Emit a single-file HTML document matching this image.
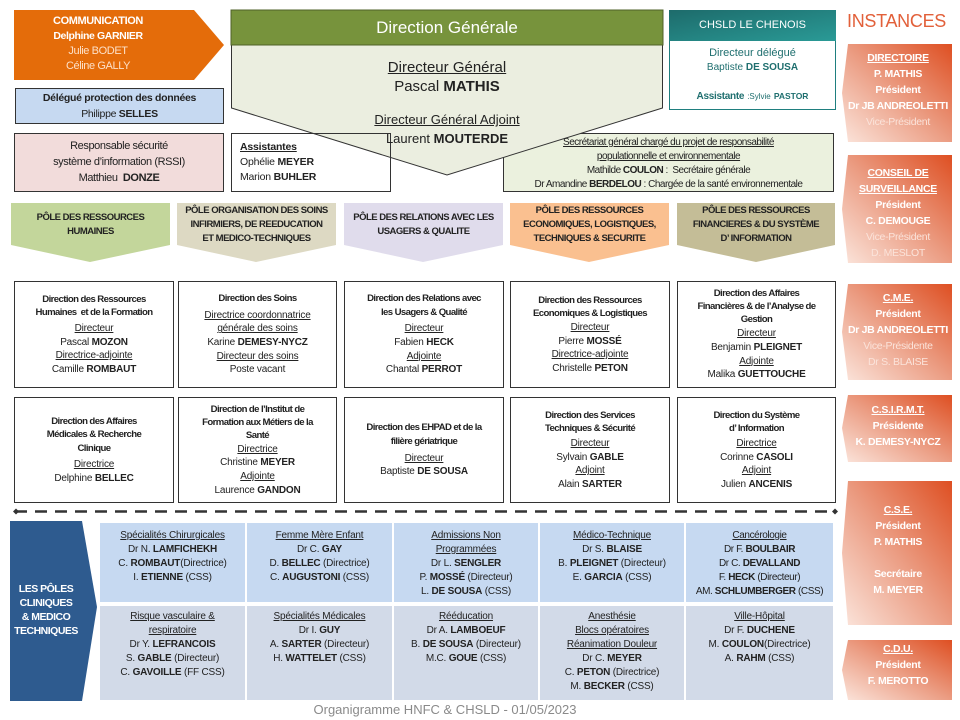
<!DOCTYPE html>
<html><head><meta charset="utf-8">
<style>
*{margin:0;padding:0;box-sizing:border-box}
body{width:960px;height:720px;position:relative;background:#fff;font-family:"Liberation Sans",sans-serif;color:#222;overflow:hidden}
.a{position:absolute}
.box{position:absolute;border:1px solid #333;display:flex;align-items:center;justify-content:center;text-align:center;font-size:10px;line-height:13.6px;letter-spacing:-0.2px}
.box>div{width:100%}
.t{font-weight:bold;letter-spacing:-0.6px;margin-bottom:3px;font-size:9.6px}
u{text-decoration:underline}
.pole{position:absolute;display:flex;align-items:center;justify-content:center;text-align:center;font-size:9.5px;font-weight:bold;letter-spacing:-0.5px;line-height:14px;height:44px}
.cell{position:absolute;text-align:center;font-size:10px;line-height:14px;letter-spacing:-0.2px;padding-top:6px}
.inst{position:absolute;text-align:center;color:#fff;font-size:10.5px;line-height:16px;font-weight:bold;letter-spacing:-0.3px}
.inst .h{text-decoration:underline}
.inst .l{font-weight:normal;color:#fbe3da}
</style></head><body>
<svg class="a" style="left:0;top:0" width="960" height="720">
<defs>
<linearGradient id="g" x1="0" y1="1" x2="1" y2="0">
<stop offset="0" stop-color="#fbe5dc"/><stop offset="0.5" stop-color="#eb9c82"/><stop offset="1" stop-color="#de4f22"/>
</linearGradient>
<linearGradient id="tl" x1="0" y1="0" x2="1" y2="1">
<stop offset="0" stop-color="#1d6b6b"/><stop offset="1" stop-color="#2a9a96"/>
</linearGradient>
</defs>
<polygon points="14,10 194,10 224,45 194,80 14,80" fill="#e46c0a"/>
<rect x="15.5" y="88.5" width="208" height="35" fill="#c6d9f1" stroke="#333"/>
<rect x="14.5" y="133.5" width="209" height="58" fill="#f2dcdb" stroke="#333"/>
<rect x="503.5" y="133.5" width="330" height="58" fill="#ebf1de" stroke="#333"/>
<polygon points="231.5,44 662.5,44 662.5,108 447,175 231.5,108" fill="#ebeee0" stroke="#333"/>
<rect x="231" y="10" width="432" height="35" fill="#77933c" stroke="#4f6228"/>
<rect x="231.5" y="133.5" width="159" height="58" fill="none" stroke="#333"/>
<rect x="669.5" y="10.5" width="166" height="99" fill="#fff" stroke="#1f7f7f"/>
<rect x="669" y="10" width="167" height="31" fill="url(#tl)"/>
<polygon points="11,203 170,203 170,245 90,262 11,245" fill="#c3d69b"/>
<polygon points="177,203 336,203 336,245 256,262 177,245" fill="#ddd9c3"/>
<polygon points="344,203 503,203 503,245 423,262 344,245" fill="#e0dcec"/>
<polygon points="510,203 669,203 669,245 589,262 510,245" fill="#fac090"/>
<polygon points="677,203 835,203 835,245 756,262 677,245" fill="#c4bd97"/>
<line x1="15" y1="511.5" x2="835" y2="511.5" stroke="#333" stroke-width="2.5" stroke-dasharray="12,8"/>
<polygon points="13,511.5 16,508.5 19,511.5 16,514.5" fill="#333"/>
<polygon points="832,511.5 835,508.5 838,511.5 835,514.5" fill="#333"/>
<polygon points="10,521 82,521 97,607 82,701 10,701" fill="#2e5b8f"/>
<g fill="#c6d9f1">
<rect x="100" y="523" width="145" height="79"/><rect x="247" y="523" width="145" height="79"/><rect x="394" y="523" width="144" height="79"/><rect x="540" y="523" width="144" height="79"/><rect x="686" y="523" width="147" height="79"/>
</g>
<g fill="#d2dae8">
<rect x="100" y="606" width="145" height="94"/><rect x="247" y="606" width="145" height="94"/><rect x="394" y="606" width="144" height="94"/><rect x="540" y="606" width="144" height="94"/><rect x="686" y="606" width="147" height="94"/>
</g>
<polygon points="848,44 952,44 952,142 848,142 842,93" fill="url(#g)"/>
<polygon points="848,155 952,155 952,263 848,263 842,209" fill="url(#g)"/>
<polygon points="848,284 952,284 952,380 848,380 842,332" fill="url(#g)"/>
<polygon points="848,395 952,395 952,462 848,462 842,428" fill="url(#g)"/>
<polygon points="848,481 952,481 952,625 848,625 842,553" fill="url(#g)"/>
<polygon points="848,640 952,640 952,700 848,700 842,670" fill="url(#g)"/>
</svg>

<div class="a" style="left:14px;top:14px;width:168px;text-align:center;color:#fff;font-size:11px;line-height:15px;letter-spacing:-0.4px"><b>COMMUNICATION</b><br><b style="font-size:10.5px">Delphine GARNIER</b><br><span style="color:#fde0c8">Julie BODET<br>Céline GALLY</span></div>
<div class="a" style="left:15px;top:90px;width:209px;text-align:center;font-size:10.5px;line-height:16px;letter-spacing:-0.3px"><b>Délégué protection des données</b><br>Philippe <b>SELLES</b></div>
<div class="a" style="left:14px;top:138px;width:210px;text-align:center;font-size:11px;line-height:16px;letter-spacing:-0.4px">Responsable sécurité<br>système d’information (RSSI)<br>Matthieu &nbsp;<b>DONZE</b></div>
<div class="a" style="left:231px;top:10px;width:432px;height:35px;line-height:35px;text-align:center;color:#fff;font-size:17px">Direction Générale</div>
<div class="a" style="left:231px;top:58px;width:432px;text-align:center;font-size:15px;line-height:19px"><u>Directeur Général</u><br>Pascal <b>MATHIS</b></div>
<div class="a" style="left:231px;top:110px;width:432px;text-align:center;font-size:13px;line-height:19px"><u>Directeur Général Adjoint</u><br>Laurent <b>MOUTERDE</b></div>
<div class="a" style="left:240px;top:140px;font-size:10.5px;line-height:15px;letter-spacing:-0.2px"><b><u>Assistantes</u></b><br>Ophélie <b>MEYER</b><br>Marion <b>BUHLER</b></div>
<div class="a" style="left:503px;top:136px;width:331px;text-align:center;font-size:10px;line-height:14px;letter-spacing:-0.5px"><u>Secrétariat général chargé du projet de responsabilité<br>populationnelle et environnementale</u><br>Mathilde <b>COULON</b> : &nbsp;Secrétaire générale<br>Dr Amandine <b>BERDELOU</b> : Chargée de la santé environnementale</div>
<div class="a" style="left:669px;top:10px;width:167px;height:31px;line-height:31px;text-align:center;color:#fff;font-size:11px">CHSLD LE CHENOIS</div>
<div class="a" style="left:669px;top:46px;width:167px;text-align:center;color:#1f6f6f;font-size:11px;line-height:14px">Directeur délégué<br><span style="font-size:10px">Baptiste <b>DE SOUSA</b></span><br><br><b style="font-size:10px;letter-spacing:-0.3px">Assistante</b> <span style="font-size:8px">:Sylvie</span> <b style="font-size:8.5px">PASTOR</b></div>
<div class="a" style="left:847px;top:11px;color:#e2603a;font-size:18px;letter-spacing:-0.3px">INSTANCES</div>

<div class="inst" style="left:842px;top:50px;width:112px"><span class="h">DIRECTOIRE</span><br>P. MATHIS<br>Président<br>Dr JB ANDREOLETTI<br><span class="l">Vice-Président</span></div>
<div class="inst" style="left:842px;top:165px;width:112px"><span class="h">CONSEIL DE<br>SURVEILLANCE</span><br>Président<br>C. DEMOUGE<br><span class="l">Vice-Président<br>D. MESLOT</span></div>
<div class="inst" style="left:842px;top:290px;width:112px"><span class="h">C.M.E.</span><br>Président<br>Dr JB ANDREOLETTI<br><span class="l">Vice-Présidente<br>Dr S. BLAISE</span></div>
<div class="inst" style="left:842px;top:402px;width:112px"><span class="h">C.S.I.R.M.T.</span><br>Présidente<br>K. DEMESY-NYCZ</div>
<div class="inst" style="left:842px;top:502px;width:112px"><span class="h">C.S.E.</span><br>Président<br>P. MATHIS<br><br>Secrétaire<br>M. MEYER</div>
<div class="inst" style="left:842px;top:641px;width:112px"><span class="h">C.D.U.</span><br>Président<br>F. MEROTTO</div>

<div class="pole" style="left:11px;top:203px;width:159px">PÔLE DES RESSOURCES<br>HUMAINES</div>
<div class="pole" style="left:177px;top:203px;width:159px">PÔLE ORGANISATION DES SOINS<br>INFIRMIERS, DE REEDUCATION<br>ET MEDICO-TECHNIQUES</div>
<div class="pole" style="left:344px;top:203px;width:159px">PÔLE DES RELATIONS AVEC LES<br>USAGERS &amp; QUALITE</div>
<div class="pole" style="left:510px;top:203px;width:159px">PÔLE DES RESSOURCES<br>ECONOMIQUES, LOGISTIQUES,<br>TECHNIQUES &amp; SECURITE</div>
<div class="pole" style="left:677px;top:203px;width:158px">PÔLE DES RESSOURCES<br>FINANCIERES &amp; DU SYSTÈME<br>D’ INFORMATION</div>

<div class="box" style="left:14px;top:281px;width:160px;height:107px"><div><div class="t" style="margin-bottom:2px">Direction des Ressources<br>Humaines &nbsp;et de la Formation</div><u>Directeur</u><br>Pascal <b>MOZON</b><br><u>Directrice-adjointe</u><br>Camille <b>ROMBAUT</b></div></div>
<div class="box" style="left:178px;top:281px;width:159px;height:107px"><div><div class="t">Direction des Soins</div><u>Directrice coordonnatrice<br>générale des soins</u><br>Karine <b>DEMESY-NYCZ</b><br><u>Directeur des soins</u><br>Poste vacant</div></div>
<div class="box" style="left:344px;top:281px;width:160px;height:107px"><div><div class="t">Direction des Relations avec<br>les Usagers &amp; Qualité</div><u>Directeur</u><br>Fabien <b>HECK</b><br><u>Adjointe</u><br>Chantal <b>PERROT</b></div></div>
<div class="box" style="left:510px;top:281px;width:160px;height:107px"><div><div class="t" style="margin-bottom:0">Direction des Ressources<br>Economiques &amp; Logistiques</div><u>Directeur</u><br>Pierre <b>MOSSÉ</b><br><u>Directrice-adjointe</u><br>Christelle <b>PETON</b></div></div>
<div class="box" style="left:677px;top:281px;width:159px;height:107px"><div><div class="t" style="margin-bottom:1px;line-height:13px">Direction des Affaires<br>Financières &amp; de l’Analyse de<br>Gestion</div><u>Directeur</u><br>Benjamin <b>PLEIGNET</b><br><u>Adjointe</u><br>Malika <b>GUETTOUCHE</b></div></div>

<div class="box" style="left:14px;top:397px;width:160px;height:106px"><div><div class="t">Direction des Affaires<br>Médicales &amp; Recherche<br>Clinique</div><u>Directrice</u><br>Delphine <b>BELLEC</b></div></div>
<div class="box" style="left:178px;top:397px;width:159px;height:106px"><div><div class="t" style="margin-bottom:1px;line-height:13px">Direction de l’Institut de<br>Formation aux Métiers de la<br>Santé</div><u>Directrice</u><br>Christine <b>MEYER</b><br><u>Adjointe</u><br>Laurence <b>GANDON</b></div></div>
<div class="box" style="left:344px;top:397px;width:160px;height:106px"><div><div class="t">Direction des EHPAD et de la<br>filière gériatrique</div><u>Directeur</u><br>Baptiste <b>DE SOUSA</b></div></div>
<div class="box" style="left:510px;top:397px;width:160px;height:106px"><div><div class="t" style="margin-bottom:1px">Direction des Services<br>Techniques &amp; Sécurité</div><u>Directeur</u><br>Sylvain <b>GABLE</b><br><u>Adjoint</u><br>Alain <b>SARTER</b></div></div>
<div class="box" style="left:677px;top:397px;width:159px;height:106px"><div><div class="t" style="margin-bottom:1px">Direction du Système<br>d’ Information</div><u>Directrice</u><br>Corinne <b>CASOLI</b><br><u>Adjoint</u><br>Julien <b>ANCENIS</b></div></div>

<div class="a" style="left:10px;top:582px;width:72px;text-align:center;color:#fff;font-size:10.5px;line-height:14px;font-weight:bold;letter-spacing:-0.5px">LES PÔLES<br>CLINIQUES<br>&amp; MEDICO<br>TECHNIQUES</div>

<div class="cell" style="left:100px;top:523px;width:145px"><u>Spécialités Chirurgicales</u><br>Dr N. <b>LAMFICHEKH</b><br>C. <b>ROMBAUT</b>(Directrice)<br>I. <b>ETIENNE</b> (CSS)</div>
<div class="cell" style="left:247px;top:523px;width:145px"><u>Femme Mère Enfant</u><br>Dr C. <b>GAY</b><br>D. <b>BELLEC</b> (Directrice)<br>C. <b>AUGUSTONI</b> (CSS)</div>
<div class="cell" style="left:394px;top:523px;width:144px"><u>Admissions Non<br>Programmées</u><br>Dr L. <b>SENGLER</b><br>P. <b>MOSSÉ</b> (Directeur)<br>L. <b>DE SOUSA</b> (CSS)</div>
<div class="cell" style="left:540px;top:523px;width:144px"><u>Médico-Technique</u><br>Dr S. <b>BLAISE</b><br>B. <b>PLEIGNET</b> (Directeur)<br>E. <b>GARCIA</b> (CSS)</div>
<div class="cell" style="left:686px;top:523px;width:147px;letter-spacing:-0.4px"><u>Cancérologie</u><br>Dr F. <b>BOULBAIR</b><br>Dr C. <b>DEVALLAND</b><br>F. <b>HECK</b> (Directeur)<br>AM. <b>SCHLUMBERGER</b> (CSS)</div>

<div class="cell" style="left:100px;top:604px;width:145px"><u>Risque vasculaire &amp;<br>respiratoire</u><br>Dr Y. <b>LEFRANCOIS</b><br>S. <b>GABLE</b> (Directeur)<br>C. <b>GAVOILLE</b> (FF CSS)</div>
<div class="cell" style="left:247px;top:604px;width:145px"><u>Spécialités Médicales</u><br>Dr I. <b>GUY</b><br>A. <b>SARTER</b> (Directeur)<br>H. <b>WATTELET</b> (CSS)</div>
<div class="cell" style="left:394px;top:604px;width:144px"><u>Rééducation</u><br>Dr A. <b>LAMBOEUF</b><br>B. <b>DE SOUSA</b> (Directeur)<br>M.C. <b>GOUE</b> (CSS)</div>
<div class="cell" style="left:540px;top:604px;width:144px"><u>Anesthésie<br>Blocs opératoires<br>Réanimation Douleur</u><br>Dr C. <b>MEYER</b><br>C. <b>PETON</b> (Directrice)<br>M. <b>BECKER</b> (CSS)</div>
<div class="cell" style="left:686px;top:604px;width:147px"><u>Ville-Hôpital</u><br>Dr F. <b>DUCHENE</b><br>M. <b>COULON</b>(Directrice)<br>A. <b>RAHM</b> (CSS)</div>

<div class="a" style="left:250px;top:702px;width:390px;text-align:center;color:#8a8a8a;font-size:13px">Organigramme HNFC &amp; CHSLD - 01/05/2023</div>
</body></html>
